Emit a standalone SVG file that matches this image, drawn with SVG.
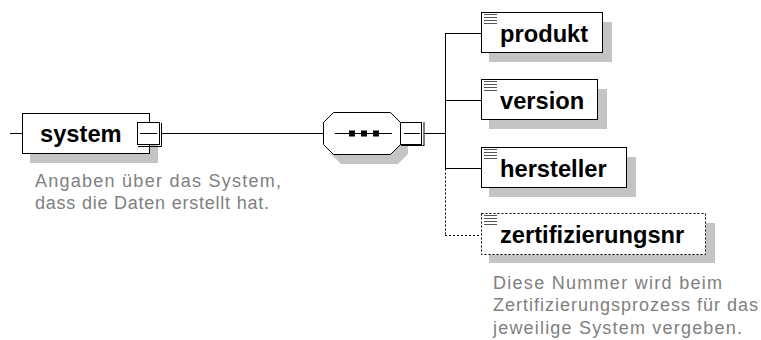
<svg xmlns="http://www.w3.org/2000/svg" width="761" height="340" viewBox="0 0 761 340">
<style>
.bg{fill:#ffffff}
.box{fill:#ffffff;stroke:#000000;stroke-width:1}
.dbox{fill:#ffffff;stroke:#000000;stroke-width:1;stroke-dasharray:2,2}
.shadow{fill:#c4c4c4;stroke:none}
.ln{stroke:#000000;stroke-width:1;fill:none}
.dln{stroke:#000000;stroke-width:1;fill:none;stroke-dasharray:2,2}
.icon{stroke:#555555;stroke-width:1}
.lbl{font-family:"Liberation Sans",Arial,sans-serif;font-weight:bold;font-size:23.7px;fill:#000000}
.desc{font-family:"Liberation Sans",Arial,sans-serif;font-size:18px;fill:#808080}
</style>
<rect class="bg" x="0" y="0" width="761" height="340"/>
<g id="connectors">
<line class="ln" x1="10" y1="133.5" x2="22" y2="133.5"/>
<line class="ln" x1="161" y1="133.5" x2="323" y2="133.5"/>
<line class="ln" x1="424" y1="133.5" x2="445.5" y2="133.5"/>
<line class="ln" x1="445.5" y1="33" x2="445.5" y2="168.5"/>
<line class="dln" x1="445.5" y1="168.5" x2="445.5" y2="235.5"/>
<line class="ln" x1="445" y1="33.5" x2="481" y2="33.5"/>
<line class="ln" x1="445" y1="100.5" x2="481" y2="100.5"/>
<line class="ln" x1="445" y1="168.5" x2="481" y2="168.5"/>
<line class="dln" x1="445" y1="235.5" x2="481" y2="235.5"/>
</g>
<g id="system">
<rect class="shadow" x="30" y="123" width="128" height="40"/>
<rect class="box" x="22.5" y="113.5" width="127" height="40"/>
<text class="lbl" x="40" y="142.3">system</text>
<rect class="box" x="137.5" y="122.5" width="22" height="22"/>
<line class="ln" x1="161.5" y1="123" x2="161.5" y2="146.5"/>
<line class="ln" x1="138" y1="146.5" x2="161.5" y2="146.5"/>
<line class="ln" x1="140" y1="133.5" x2="157" y2="133.5"/>
<text class="desc" x="35" y="186.7" textLength="246" lengthAdjust="spacing">Angaben über das System,</text>
<text class="desc" x="35" y="208.7" textLength="234" lengthAdjust="spacing">dass die Daten erstellt hat.</text>
</g>
<g id="sequence">
<polygon class="shadow" points="341,122 398,122 408,132 408,154 398,164 341,164 331,154 331,132"/>
<polygon class="box" points="333.5,112.5 390.5,112.5 400.5,122.5 400.5,144.5 390.5,154.5 333.5,154.5 323.5,144.5 323.5,122.5"/>
<line class="ln" x1="335" y1="133.5" x2="392" y2="133.5"/>
<rect x="349" y="130.5" width="6" height="6" fill="#000000"/>
<rect x="361" y="130.5" width="6" height="6" fill="#000000"/>
<rect x="373" y="130.5" width="6" height="6" fill="#000000"/>
<rect class="box" x="400.5" y="122.5" width="21" height="22"/>
<line class="ln" x1="424" y1="122" x2="424" y2="146"/>
<line class="ln" x1="401" y1="145.5" x2="424" y2="145.5"/>
<line class="ln" x1="404" y1="133.5" x2="420" y2="133.5"/>
</g>
<g id="produkt">
<rect class="shadow" x="489" y="22" width="123" height="40"/>
<rect class="box" x="481.5" y="12.5" width="121" height="40"/>
<line class="icon" x1="484" y1="14.5" x2="497" y2="14.5"/>
<line class="icon" x1="484" y1="17.5" x2="497" y2="17.5"/>
<line class="icon" x1="484" y1="20.5" x2="497" y2="20.5"/>
<line class="icon" x1="484" y1="23.5" x2="497" y2="23.5"/>
<text class="lbl" x="500" y="41.5">produkt</text>
</g>
<g id="version">
<rect class="shadow" x="489" y="89" width="118" height="40"/>
<rect class="box" x="481.5" y="79.5" width="116" height="40"/>
<line class="icon" x1="484" y1="81.5" x2="497" y2="81.5"/>
<line class="icon" x1="484" y1="84.5" x2="497" y2="84.5"/>
<line class="icon" x1="484" y1="87.5" x2="497" y2="87.5"/>
<line class="icon" x1="484" y1="90.5" x2="497" y2="90.5"/>
<text class="lbl" x="500" y="108.5">version</text>
</g>
<g id="hersteller">
<rect class="shadow" x="489" y="157" width="147" height="40"/>
<rect class="box" x="481.5" y="147.5" width="145" height="40"/>
<line class="icon" x1="484" y1="149.5" x2="497" y2="149.5"/>
<line class="icon" x1="484" y1="152.5" x2="497" y2="152.5"/>
<line class="icon" x1="484" y1="155.5" x2="497" y2="155.5"/>
<line class="icon" x1="484" y1="158.5" x2="497" y2="158.5"/>
<text class="lbl" x="500" y="176.5">hersteller</text>
</g>
<g id="zertifizierungsnr">
<rect class="shadow" x="489" y="223" width="226" height="40"/>
<rect class="dbox" x="481.5" y="213.5" width="224" height="41"/>
<line class="icon" x1="484" y1="215.5" x2="497" y2="215.5"/>
<line class="icon" x1="484" y1="218.5" x2="497" y2="218.5"/>
<line class="icon" x1="484" y1="221.5" x2="497" y2="221.5"/>
<line class="icon" x1="484" y1="224.5" x2="497" y2="224.5"/>
<text class="lbl" x="500" y="243">zertifizierungsnr</text>
<text class="desc" x="493" y="288.5" textLength="229" lengthAdjust="spacing">Diese Nummer wird beim</text>
<text class="desc" x="493" y="311" textLength="265" lengthAdjust="spacing">Zertifizierungsprozess für das</text>
<text class="desc" x="493" y="333.5" textLength="249" lengthAdjust="spacing">jeweilige System vergeben.</text>
</g>
</svg>
